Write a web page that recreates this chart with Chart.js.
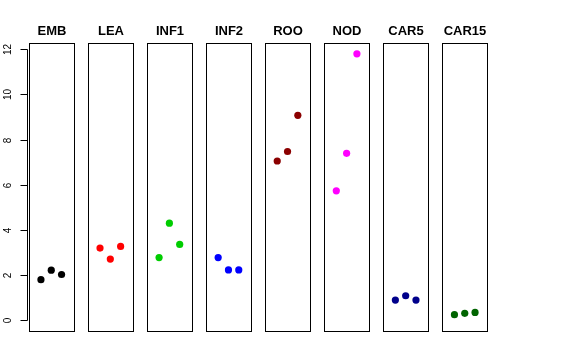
<!DOCTYPE html>
<html>
<head>
<meta charset="utf-8">
<script src="https://cdn.jsdelivr.net/npm/chart.js@4"></script>
<style>
  html, body { margin: 0; padding: 0; background: #fff; }
  #wrap { width: 576px; height: 360px; }
</style>
</head>
<body>
<div id="wrap"><canvas id="stripChart" width="576" height="360"></canvas></div>
<script>
// panels and their three replicate values
const categories = ['EMB', 'LEA', 'INF1', 'INF2', 'ROO', 'NOD', 'CAR5', 'CAR15'];
const embValues = [1.80, 2.22, 2.03];
const leaValues = [3.20, 2.71, 3.27];
const inf1Values = [2.78, 4.30, 3.36];
const inf2Values = [2.78, 2.23, 2.23];
const rooValues = [7.05, 7.47, 9.07];
const nodValues = [5.73, 7.39, 11.79];
const car5Values = [0.90, 1.09, 0.90];
const car15Values = [0.25, 0.31, 0.35];
const yTicks = [0, 2, 4, 6, 8, 10, 12];
const colors = ['#000000', '#FF0000', '#00CD00', '#0000FF', '#8B0000', '#FF00FF', '#00008B', '#006400'];

const allValues = [embValues, leaValues, inf1Values, inf2Values, rooValues, nodValues, car5Values, car15Values];

// each panel spans x = -0.16 .. 4.16 (R style 4% extension of 0..4), panels are offset by "pitch"
const pitch = 5.734;
const panelMin = -0.16, panelMax = 4.16;

const datasets = allValues.map((vals, i) => ({
    label: categories[i],
    data: vals.map((v, j) => ({ x: i * pitch + j + 1, y: v })),
    backgroundColor: colors[i],
    borderColor: colors[i],
    pointRadius: 3.6,
    pointHoverRadius: 3.6,
    borderWidth: 0
}));

// frames, titles and left axis drawn like base R graphics
const panelPlugin = {
    id: 'panels',
    afterDraw(chart) {
        const ctx = chart.ctx;
        const xs = chart.scales.x;
        const ys = chart.scales.y;
        const area = chart.chartArea;
        ctx.save();
        ctx.strokeStyle = '#000';
        ctx.lineWidth = 1;
        ctx.fillStyle = '#000';
        ctx.font = 'bold 13px "Liberation Sans", Arial, sans-serif';
        ctx.textAlign = 'center';
        ctx.textBaseline = 'middle';
        categories.forEach((name, i) => {
            const l = Math.round(xs.getPixelForValue(i * pitch + panelMin)) + 0.5;
            const r = Math.round(xs.getPixelForValue(i * pitch + panelMax)) + 0.5;
            const t = Math.round(area.top) + 0.5;
            const b = Math.round(area.bottom) + 0.5;
            ctx.strokeRect(l, t, r - l, b - t);
            ctx.fillText(name, (l + r) / 2, 31);
        });

        // y axis
        const axX = Math.round(area.left) - 1.5;
        ctx.beginPath();
        ctx.moveTo(axX, Math.round(ys.getPixelForValue(0)) + 0.5);
        ctx.lineTo(axX, Math.round(ys.getPixelForValue(12)) + 0.5);
        ctx.stroke();
        ctx.font = '10px "Liberation Sans", Arial, sans-serif';
        yTicks.forEach(v => {
            const py = Math.round(ys.getPixelForValue(v)) + 0.5;
            ctx.beginPath();
            ctx.moveTo(axX, py);
            ctx.lineTo(axX - 7, py);
            ctx.stroke();
            ctx.save();
            ctx.translate(8, py);
            ctx.rotate(-Math.PI / 2);
            ctx.fillText(String(v), 0, 0);
            ctx.restore();
        });
        ctx.restore();
    }
};

new Chart(document.getElementById('stripChart').getContext('2d'), {
    type: 'scatter',
    data: { datasets: datasets },
    options: {
        responsive: false,
        animation: false,
        layout: { padding: { left: 29, right: 89, top: 43, bottom: 29 } },
        plugins: {
            legend: { display: false },
            tooltip: { enabled: false }
        },
        scales: {
            x: {
                type: 'linear',
                display: false,
                min: panelMin,
                max: 7 * pitch + panelMax
            },
            y: {
                type: 'linear',
                display: false,
                min: -0.47,
                max: 12.27
            }
        }
    },
    plugins: [panelPlugin]
});
</script>
</body>
</html>
